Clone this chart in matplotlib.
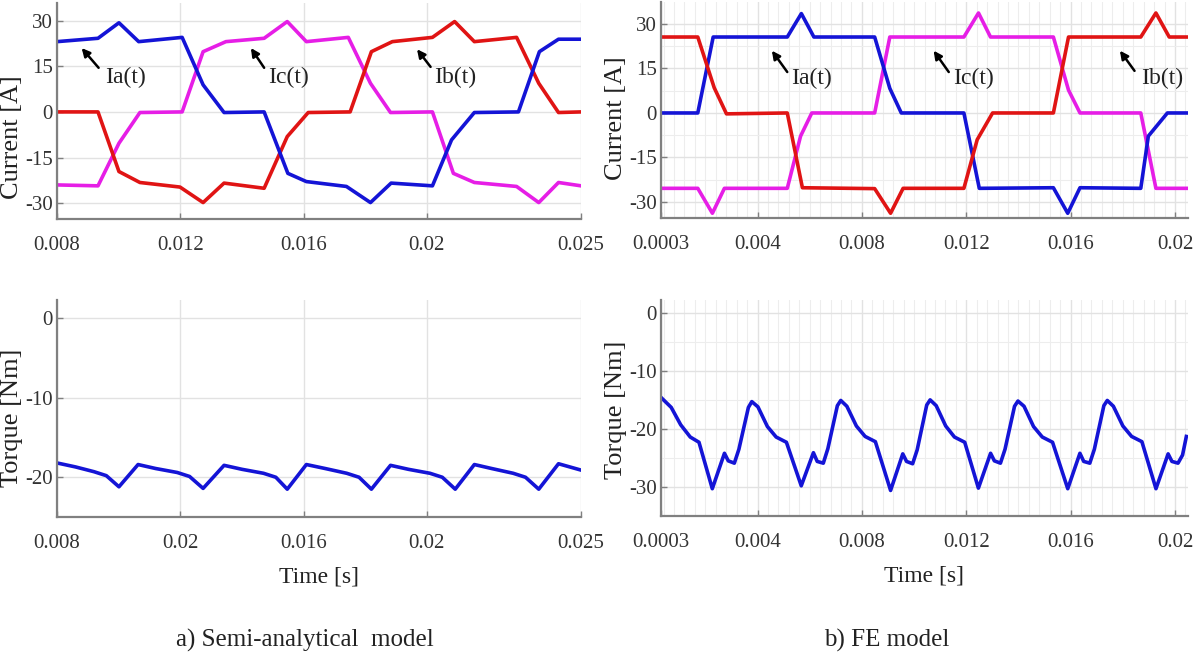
import matplotlib
matplotlib.use("Agg")
import matplotlib.pyplot as plt
from matplotlib.ticker import FixedLocator, MultipleLocator

# ---------------- data ----------------
# a) Semi-analytical model: phase currents
sa_t_a = [0.008, 0.00933, 0.01001, 0.01065, 0.01206, 0.01274, 0.01342, 0.01472, 0.01549, 0.01609,
          0.01739, 0.01817, 0.01884, 0.02018, 0.02080, 0.02154, 0.02297, 0.02365, 0.02427, 0.025]
sa_ia = [23.1, 24.2, 29.3, 23.1, 24.5, 8.9, -0.2, 0.0, -20.2, -22.9,
         -24.5, -29.8, -23.4, -24.3, -9.2, -0.2, 0.0, 19.8, 23.9, 23.9]
sa_t_c = [0.008, 0.00933, 0.01001, 0.01069, 0.01206, 0.01274, 0.01348, 0.01472, 0.01547, 0.01609,
          0.01745, 0.01817, 0.01882, 0.02018, 0.02086, 0.02154, 0.02291, 0.02363, 0.02427, 0.025]
sa_ic = [-24.0, -24.3, -10.3, -0.2, 0.0, 19.8, 23.1, 24.2, 29.7, 23.1,
         24.5, 9.4, -0.2, 0.0, -20.2, -23.2, -24.5, -29.8, -23.2, -24.3]
sa_t_b = [0.008, 0.00933, 0.01001, 0.01069, 0.01199, 0.01274, 0.01342, 0.01472, 0.01547, 0.01615,
          0.01751, 0.01820, 0.01888, 0.02018, 0.02090, 0.02154, 0.02291, 0.02363, 0.02427, 0.025]
sa_ib = [0.0, 0.0, -19.6, -23.2, -24.7, -29.8, -23.4, -25.1, -8.1, -0.2,
         0.0, 19.8, 23.1, 24.5, 29.7, 23.1, 24.5, 9.4, -0.2, 0.0]

# a) Semi-analytical model: torque
sa_t_torque = [0.008, 0.0086, 0.0092, 0.0096, 0.01001, 0.01063, 0.0112, 0.0119, 0.0123, 0.01274,
               0.01342, 0.0140, 0.0147, 0.0151, 0.01547, 0.01609, 0.0167, 0.0174, 0.0178, 0.0182,
               0.01882, 0.0194, 0.0201, 0.0205, 0.02092, 0.02154, 0.0221, 0.0228, 0.0232, 0.02363,
               0.02427, 0.025]
sa_torque = [-18.2, -18.7, -19.3, -19.8, -21.2, -18.4, -18.9, -19.4, -19.9, -21.4,
             -18.5, -19.0, -19.5, -20.0, -21.5, -18.4, -18.9, -19.5, -20.0, -21.5,
             -18.5, -19.0, -19.5, -20.0, -21.5, -18.4, -18.9, -19.5, -20.0, -21.5,
             -18.3, -19.1]

# b) FE model: phase currents
fe_t_b = [0.0003, 0.00171, 0.00234, 0.00281, 0.00514, 0.00572, 0.00849, 0.00910, 0.00958,
          0.01191, 0.01242, 0.01301, 0.01534, 0.01592, 0.01869, 0.01927, 0.01978, 0.02044]
fe_ib = [25.6, 25.6, 8.5, -0.3, 0.0, -25.2, -25.5, -33.8, -25.4,
         -25.4, -9.0, 0.0, 0.0, 25.6, 25.6, 33.7, 25.6, 25.6]
fe_t_a = [0.0003, 0.00171, 0.00230, 0.00514, 0.00568, 0.00616, 0.00849, 0.00907, 0.00951,
          0.01191, 0.01250, 0.01534, 0.01589, 0.01636, 0.01869, 0.01898, 0.01971, 0.02044]
fe_ia = [0.0, 0.0, 25.6, 25.6, 33.5, 25.6, 25.6, 8.3, 0.0,
         0.0, -25.4, -25.2, -33.8, -25.2, -25.4, -7.8, 0.0, 0.0]
fe_t_c = [0.0003, 0.00171, 0.00227, 0.00273, 0.00514, 0.00565, 0.00608, 0.00849, 0.00907,
          0.01191, 0.01247, 0.01293, 0.01534, 0.01592, 0.01636, 0.01869, 0.01927, 0.02044]
fe_ic = [-25.4, -25.4, -33.8, -25.4, -25.4, -7.8, 0.0, 0.0, 25.6,
         25.6, 33.7, 25.6, 25.6, 7.7, 0.0, 0.0, -25.4, -25.4]

# b) FE model: torque
fe_t_torque = [0.000328, 0.000692, 0.001056, 0.001421, 0.001756,
               0.002266, 0.002732, 0.002878, 0.003111, 0.003286, 0.003650, 0.003781, 0.004015, 0.004379, 0.004714, 0.005107,
               0.005676, 0.006142, 0.006288, 0.006521, 0.006696, 0.007060, 0.007191, 0.007424, 0.007789, 0.008124, 0.008517,
               0.009100, 0.009567, 0.009712, 0.009945, 0.010120, 0.010485, 0.010616, 0.010849, 0.011213, 0.011548, 0.011942,
               0.012466, 0.012933, 0.013078, 0.013311, 0.013487, 0.013851, 0.013982, 0.014215, 0.014580, 0.014915, 0.015308,
               0.015891, 0.016357, 0.016503, 0.016736, 0.016911, 0.017275, 0.017406, 0.017640, 0.018004, 0.018339, 0.018733,
               0.019272, 0.019738, 0.019884, 0.020117, 0.020291, 0.020437]
fe_torque = [-14.7, -16.3, -19.3, -21.4, -22.3,
             -30.3, -24.2, -25.5, -25.9, -23.5, -16.3, -15.3, -16.2, -19.6, -21.4, -22.3,
             -29.8, -24.1, -25.6, -25.9, -23.4, -16.0, -15.1, -16.1, -19.5, -21.3, -22.2,
             -30.6, -24.3, -25.6, -26.0, -23.6, -15.9, -15.0, -16.0, -19.5, -21.4, -22.3,
             -30.2, -24.2, -25.5, -25.9, -23.5, -16.1, -15.2, -16.1, -19.6, -21.4, -22.3,
             -30.3, -24.2, -25.6, -25.9, -23.5, -16.0, -15.1, -16.1, -19.5, -21.3, -22.2,
             -30.3, -24.3, -25.6, -25.9, -24.5, -21.3]

sa_xticks = [0.008, 0.012, 0.016, 0.02, 0.025]
sa_top_xlabels = ["0.008", "0.012", "0.016", "0.02", "0.025"]
sa_bot_xlabels = ["0.008", "0.02", "0.016", "0.02", "0.025"]
fe_xticks = [0.0003, 0.004, 0.008, 0.012, 0.016, 0.02]
fe_xlabels = ["0.0003", "0.004", "0.008", "0.012", "0.016", "0.02"]
current_yticks = [-30, -15, 0, 15, 30]
sa_torque_yticks = [-20, -10, 0]
fe_torque_yticks = [-30, -20, -10, 0]

# ---------------- styling ----------------
plt.rcParams['font.family'] = ['Liberation Serif', 'DejaVu Serif']
BLUE = '#1414d6'
RED = '#e01414'
MAG = '#e61ee6'
AX = '#808080'
GRID = '#e2e2e2'
MGRID = '#ededed'

W, H = 1195, 664
fig = plt.figure(figsize=(W / 100, H / 100), dpi=100)


def add_ax(l, r, t, b):
    return fig.add_axes([l / W, 1 - b / H, (r - l) / W, (b - t) / H])


def style(ax, xticks, xlabels, yticks, xlim, ylim, minor_x=None, minor_y=None):
    ax.set_xlim(*xlim)
    ax.set_ylim(*ylim)
    ax.xaxis.set_major_locator(FixedLocator(xticks))
    ax.set_xticklabels(xlabels)
    ax.set_yticks(yticks)
    ax.set_yticklabels([str(v) for v in yticks])
    for s in ['top', 'right']:
        ax.spines[s].set_visible(False)
    for s in ['left', 'bottom']:
        ax.spines[s].set_color(AX)
        ax.spines[s].set_linewidth(1.6)
    ax.tick_params(axis='both', which='major', direction='in', length=4, width=1.0,
                   color=AX, labelcolor='#333333', labelsize=15)
    ax.tick_params(axis='x', which='major', pad=12)
    ax.tick_params(axis='y', which='major', pad=3)
    ax.grid(True, which='major', color=GRID, lw=1.0)
    if minor_x is not None:
        ax.xaxis.set_minor_locator(MultipleLocator(minor_x))
    if minor_y is not None:
        ax.yaxis.set_minor_locator(MultipleLocator(minor_y))
    if minor_x is not None or minor_y is not None:
        ax.tick_params(which='minor', length=0)
        ax.grid(True, which='minor', color=MGRID, lw=0.8)
    ax.set_axisbelow(True)


def label_arrow(ax, text, text_xy, tail, head):
    ax.text(text_xy[0], text_xy[1], text, ha='left', va='center', fontsize=17, color='#222222')
    ax.annotate('', xy=head, xytext=tail,
                arrowprops=dict(arrowstyle='-|>', color='black', lw=1.8,
                                mutation_scale=12, shrinkA=0, shrinkB=0))


LW = 2.6

# Top-left: semi-analytical currents
ax1 = add_ax(57, 581, 3, 219)
style(ax1, sa_xticks, sa_top_xlabels, current_yticks, (0.008, 0.025), (-35.2, 35.8))
ax1.plot(sa_t_c, sa_ic, color=MAG, lw=LW)
ax1.plot(sa_t_b, sa_ib, color=RED, lw=LW)
ax1.plot(sa_t_a, sa_ia, color=BLUE, lw=LW)
label_arrow(ax1, 'Ia(t)', (0.00955, 11.2), (0.00935, 14.5), (0.00880, 21.0))
label_arrow(ax1, 'Ic(t)', (0.01485, 11.2), (0.01472, 14.5), (0.01429, 21.0))
label_arrow(ax1, 'Ib(t)', (0.02024, 11.2), (0.02012, 14.8), (0.01968, 20.6))

# Top-right: FE currents
ax2 = add_ax(661, 1188, 2, 218)
style(ax2, fe_xticks, fe_xlabels, current_yticks, (0.0003, 0.0205), (-35.4, 37.4),
      minor_x=0.0004, minor_y=7.5)
ax2.plot(fe_t_c, fe_ic, color=MAG, lw=LW)
ax2.plot(fe_t_a, fe_ia, color=BLUE, lw=LW)
ax2.plot(fe_t_b, fe_ib, color=RED, lw=LW)
label_arrow(ax2, 'Ia(t)', (0.00528, 11.6), (0.00514, 13.8), (0.00455, 21.0))
label_arrow(ax2, 'Ic(t)', (0.01148, 11.6), (0.01133, 13.8), (0.01075, 21.0))
label_arrow(ax2, 'Ib(t)', (0.01869, 11.6), (0.01845, 14.2), (0.01789, 21.0))

# Bottom-left: semi-analytical torque
ax3 = add_ax(57, 581, 300, 517)
style(ax3, sa_xticks, sa_bot_xlabels, sa_torque_yticks, (0.008, 0.025), (-25.0, 2.3))
ax3.plot(sa_t_torque, sa_torque, color=BLUE, lw=LW)
ax3.set_xlabel('Time [s]', fontsize=17, color='#222222', labelpad=10)

# Bottom-right: FE torque
ax4 = add_ax(661, 1188, 300, 516)
style(ax4, fe_xticks, fe_xlabels, fe_torque_yticks, (0.0003, 0.0205), (-35.0, 2.2),
      minor_x=0.0004, minor_y=5)
ax4.plot(fe_t_torque, fe_torque, color=BLUE, lw=LW)
ax4.set_xlabel('Time [s]', fontsize=17, color='#222222', labelpad=10)

# y-axis labels
ylab = dict(rotation=90, ha='center', va='center', fontsize=19, color='#222222')
fig.text(12 / W, 1 - 137 / H, 'Current [A]', **ylab)
fig.text(12 / W, 1 - 418 / H, 'Torque [Nm]', **ylab)
fig.text(616 / W, 1 - 118 / H, 'Current [A]', **ylab)
fig.text(616 / W, 1 - 410 / H, 'Torque [Nm]', **ylab)

# captions
fig.text(305 / W, 1 - 640 / H, 'a) Semi-analytical  model', ha='center', va='center',
         fontsize=18, color='#222222')
fig.text(887 / W, 1 - 640 / H, 'b) FE model', ha='center', va='center',
         fontsize=18, color='#222222')

fig.savefig('out.png', dpi=100, facecolor='white')
